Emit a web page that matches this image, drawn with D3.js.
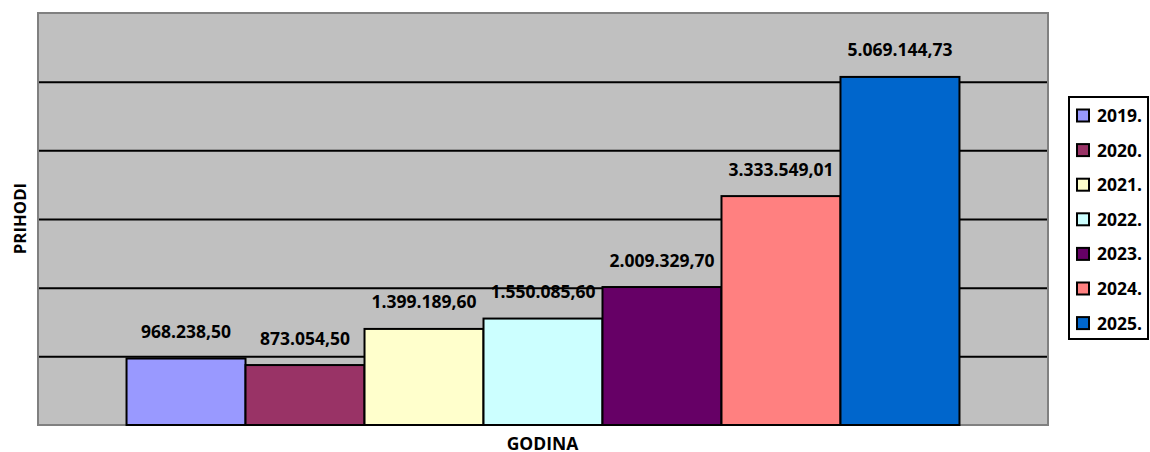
<!DOCTYPE html>
<html>
<head>
<meta charset="utf-8">
<script src="https://cdn.jsdelivr.net/npm/d3@7"></script>
<style>
  body { margin: 0; background: #ffffff; }
  text { font-family: "Open Sans", "Noto Sans", sans-serif; font-weight: 700; fill: #000; }
</style>
</head>
<body>
<div id="chart"></div>
<script>
var years = ["2019.", "2020.", "2021.", "2022.", "2023.", "2024.", "2025."];
var values = [968238.50, 873054.50, 1399189.60, 1550085.60, 2009329.70, 3333549.01, 5069144.73];
var labels = ["968.238,50", "873.054,50", "1.399.189,60", "1.550.085,60", "2.009.329,70", "3.333.549,01", "5.069.144,73"];
var colors = ["#9999FF", "#993366", "#FFFFCC", "#CCFFFF", "#660066", "#FF8080", "#0066CC"];
var yTicks = [1000000, 2000000, 3000000, 4000000, 5000000];

var W = 1150, H = 452;
var plot = {left: 38, top: 13, right: 1048, bottom: 425};

var svg = d3.select("#chart")
    .append("svg")
    .attr("width", W)
    .attr("height", H)

var x = d3.scaleBand()
    .domain(years)
    .range([plot.left, plot.right])
    .paddingInner(0)
    .paddingOuter(0.744)

var y = d3.scaleLinear()
    .domain([0, 6000000])
    .range([plot.bottom, plot.top])

// plot background
svg.append("rect")
    .attr("x", plot.left)
    .attr("y", plot.top)
    .attr("width", plot.right - plot.left)
    .attr("height", plot.bottom - plot.top)
    .attr("fill", "#C0C0C0")

// gridlines
svg.append("g")
    .attr("transform", "translate(" + plot.left + ",0)")
    .call(d3.axisLeft(y).tickValues(yTicks).tickSize(-(plot.right - plot.left)).tickFormat(""))
    .call(function(g){
        g.select(".domain").remove();
        g.selectAll(".tick line").attr("stroke", "#000").attr("stroke-width", 2);
    })

// plot border
svg.append("rect")
    .attr("x", plot.left)
    .attr("y", plot.top)
    .attr("width", plot.right - plot.left)
    .attr("height", plot.bottom - plot.top)
    .attr("fill", "none")
    .attr("stroke", "#808080")
    .attr("stroke-width", 2)

// bars
svg.selectAll(".bar")
    .data(values)
    .enter()
    .append("rect")
    .attr("class", "bar")
    .attr("x", function(d, i){ return x(years[i]); })
    .attr("y", function(d){ return y(d); })
    .attr("width", x.bandwidth())
    .attr("height", function(d){ return y(0) - y(d); })
    .attr("fill", function(d, i){ return colors[i]; })
    .attr("stroke", "#000")
    .attr("stroke-width", 2)

// value labels
svg.selectAll(".lbl")
    .data(values)
    .enter()
    .append("text")
    .attr("class", "lbl")
    .attr("x", function(d, i){ return x(years[i]) + x.bandwidth() / 2; })
    .attr("y", function(d){ return y(d) - 20.5; })
    .attr("text-anchor", "middle")
    .style("font-size", "17.5px")
    .text(function(d, i){ return labels[i]; })

// axis titles
svg.append("text")
    .attr("transform", "translate(26,218.5) rotate(-90)")
    .attr("text-anchor", "middle")
    .style("font-size", "16.8px")
    .text("PRIHODI")

svg.append("text")
    .attr("x", 542.5)
    .attr("y", 450)
    .attr("text-anchor", "middle")
    .style("font-size", "17.5px")
    .text("GODINA")

// legend
var legend = svg.append("g")
legend.append("rect")
    .attr("x", 1069)
    .attr("y", 97)
    .attr("width", 79)
    .attr("height", 242)
    .attr("fill", "#fff")
    .attr("stroke", "#000")
    .attr("stroke-width", 2)

var item = legend.selectAll(".item")
    .data(years)
    .enter()
    .append("g")
    .attr("class", "item")
    .attr("transform", function(d, i){ return "translate(1077," + (115.5 + i * 34.6) + ")"; })

item.append("rect")
    .attr("x", 0)
    .attr("y", -6)
    .attr("width", 12)
    .attr("height", 12)
    .attr("fill", function(d, i){ return colors[i]; })
    .attr("stroke", "#000")
    .attr("stroke-width", 2)

item.append("text")
    .attr("x", 20)
    .attr("y", 6.5)
    .style("font-size", "17.5px")
    .text(function(d){ return d; })
</script>
</body>
</html>
